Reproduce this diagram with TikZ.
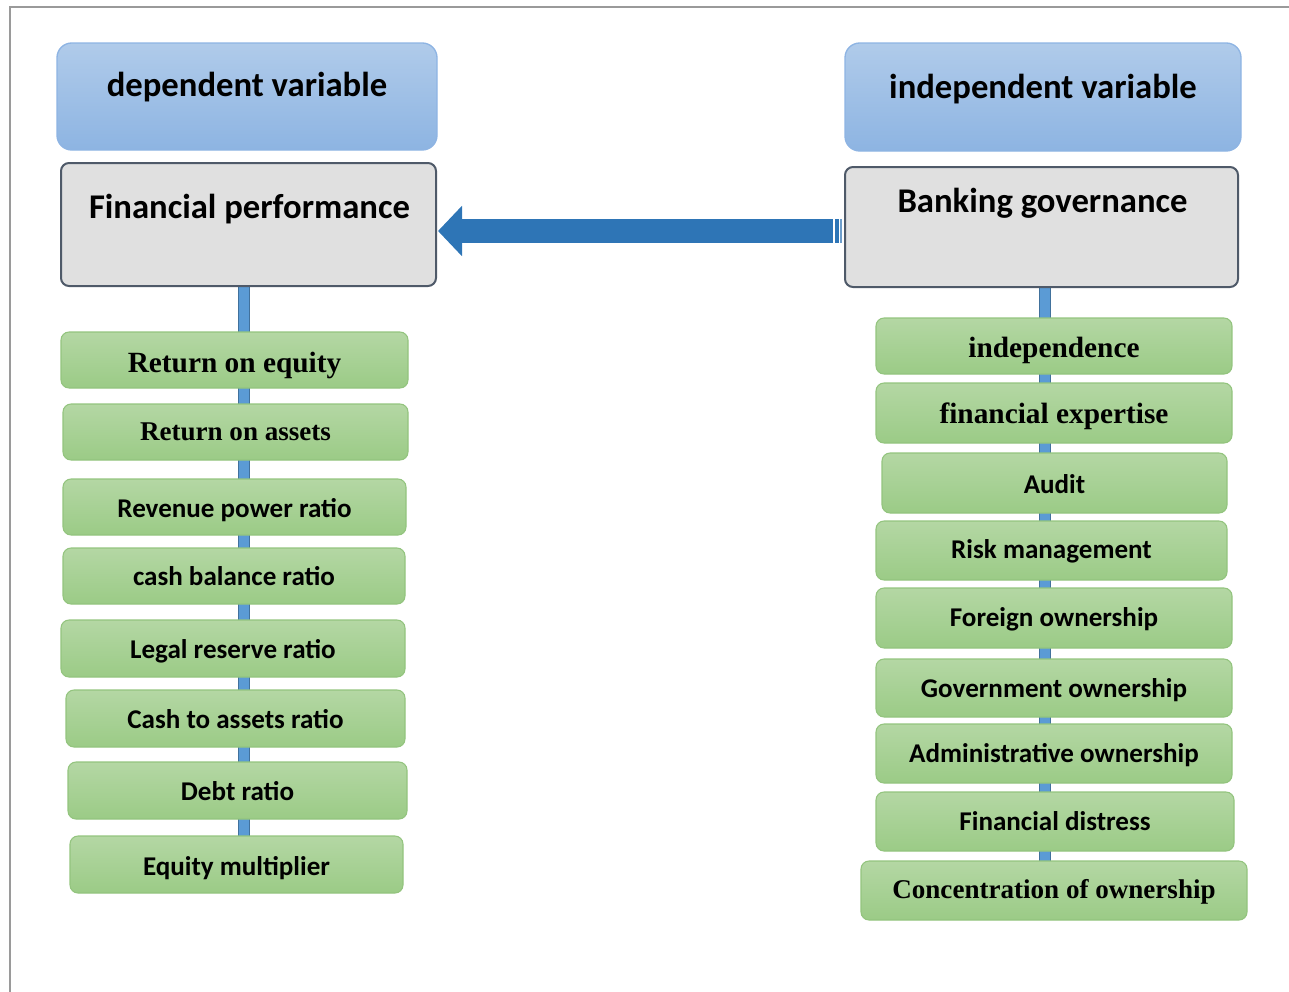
\documentclass[tikz,border=0pt]{standalone}
\usepackage{fontspec}
\setmainfont{Carlito}
\newfontfamily\timesbold{Liberation Serif}
\usetikzlibrary{calc,arrows.meta}
\pgfdeclarelayer{background}
\pgfsetlayers{background,main}

\definecolor{hdtop}{HTML}{B0CBEA}
\definecolor{hdbot}{HTML}{8DB4E2}
\definecolor{hdline}{HTML}{8EB4E3}
\definecolor{gbfill}{HTML}{E0E0E0}
\definecolor{gbline}{HTML}{4F5A69}
\definecolor{grtop}{HTML}{B4D7A4}
\definecolor{grbot}{HTML}{9BCB86}
\definecolor{grline}{HTML}{93C47E}
\definecolor{barfill}{HTML}{5B9BD5}
\definecolor{barline}{HTML}{41719C}
\definecolor{arrowblue}{HTML}{2E75B6}
\definecolor{framegray}{HTML}{9A9A9A}

\tikzset{
  sized/.style 2 args={minimum width=#1*0.75pt, minimum height=#2*0.75pt},
  headbox/.style={draw=hdline, line width=1pt, top color=hdtop, bottom color=hdbot,
    rounded corners=11pt, inner sep=0pt, outer sep=0pt},
  titlebox/.style={draw=gbline, line width=1.5pt, fill=gbfill,
    rounded corners=6pt, inner sep=0pt, outer sep=0pt},
  headtext/.style={font=\bfseries\fontsize{26}{30}\selectfont, inner sep=0pt},
  % baseline sits #1 px below the box centre
  drop/.style={text height=#1*1.5pt, text depth=0pt},
  itembox/.style={draw=grline, line width=0.8pt, top color=grtop, bottom color=grbot,
    rounded corners=6pt, inner sep=0pt, outer sep=0pt, drop=9,
    font=\bfseries\fontsize{20.3}{24}\selectfont},
  serifitem/.style={font=\timesbold\bfseries\fontsize{#1}{26}\selectfont},
  linkbar/.style={fill=barfill, draw=barline, line width=0.6pt},
}

\begin{document}
\begin{tikzpicture}[x=0.75pt, y=-0.75pt]
  \useasboundingbox (0,0) rectangle (1289,992);

  % page frame
  \draw[framegray, line width=1.5pt] (9.5,992) -- (9.5,6.5) -- (1289,6.5);

  % column headers
  \node[headbox, sized={380}{107}] (dv) at (247,96.5) {};
  \node[headtext] (dvt) at (247,87) {dependent variable};
  \node[headbox, sized={396}{108}] (iv) at (1043,97) {};
  \node[headtext] (ivt) at (1043,89) {independent variable};

  % main constructs
  \node[titlebox, sized={375}{123}] (fp) at (248.5,224.5) {};
  \node[headtext] (fpt) at (249.5,209) {Financial performance};
  \node[titlebox, sized={393}{120}] (bg) at (1041.5,227) {};
  \node[headtext] (bgt) at (1042.5,203) {Banking governance};

  % financial performance measures
  \node[itembox, sized={347}{56}, serifitem=22, drop=12] (l1) at (234.5,360) {Return on equity};
  \node[itembox, sized={345}{56}, serifitem=20.3, drop=8] (l2) at (235.5,432) {Return on assets};
  \node[itembox, sized={343}{56}, drop=10] (l3) at (234.5,507) {Revenue power ratio};
  \node[itembox, sized={342}{56}] (l4) at (234,576) {cash balance ratio};
  \node[itembox, sized={344}{57}, drop=9.5] (l5) at (233,648.5) {Legal reserve ratio};
  \node[itembox, sized={339}{57}, drop=9.5] (l6) at (235.5,718.5) {Cash to assets ratio};
  \node[itembox, sized={339}{57}, drop=9.5] (l7) at (237.5,790.5) {Debt ratio};
  \node[itembox, sized={333}{57}, drop=10.5] (l8) at (236.5,864.5) {Equity multiplier};

  % governance dimensions
  \node[itembox, sized={356}{56}, serifitem=22, drop=11] (r1) at (1054,346) {independence};
  \node[itembox, sized={356}{60}, serifitem=22, drop=10] (r2) at (1054,413) {financial expertise};
  \node[itembox, sized={345}{60}, drop=10] (r3) at (1054.5,483) {Audit};
  \node[itembox, sized={351}{59}, drop=7.5] (r4) at (1051.5,550.5) {Risk management};
  \node[itembox, sized={356}{60}, drop=8] (r5) at (1054,618) {Foreign ownership};
  \node[itembox, sized={356}{58}] (r6) at (1054,688) {Government ownership};
  \node[itembox, sized={356}{59}, drop=8.5] (r7) at (1054,753.5) {Administrative ownership};
  \node[itembox, sized={358}{59}, drop=8.5] (r8) at (1055,821.5) {Financial distress};
  \node[itembox, sized={386}{59}, serifitem=20.3, drop=7.5] (r9) at (1054,890.5) {Concentration of ownership};

  % vertical spines behind the measure boxes
  \coordinate (lx) at (244,0);
  \coordinate (rx) at (1044.5,0);
  \begin{pgfonlayer}{background}
    \draw[linkbar] ($(fp.south -| lx)+(-5.5,0)$) rectangle ($(l8.north -| lx)+(5.5,0)$);
    \draw[linkbar] ($(bg.south -| rx)+(-5.5,0)$) rectangle ($(r9.north -| rx)+(5.5,0)$);
  \end{pgfonlayer}

  % block arrow from governance to performance
  \coordinate (atail) at ($(bg.west)+(-12,4)$);
  \coordinate (atip) at ($(fp.east)+(2,6.5)$);
  \draw[arrowblue, line width=18pt,
        -{Triangle[length=18pt, width=36.75pt]}] (atail) -- (atip);
  \fill[arrowblue] ($(bg.west)+(-10,-8)$) rectangle ($(bg.west)+(-6,16)$);
  \fill[arrowblue!70] ($(bg.west)+(-5,-8)$) rectangle ($(bg.west)+(-3,16)$);
\end{tikzpicture}
\end{document}
